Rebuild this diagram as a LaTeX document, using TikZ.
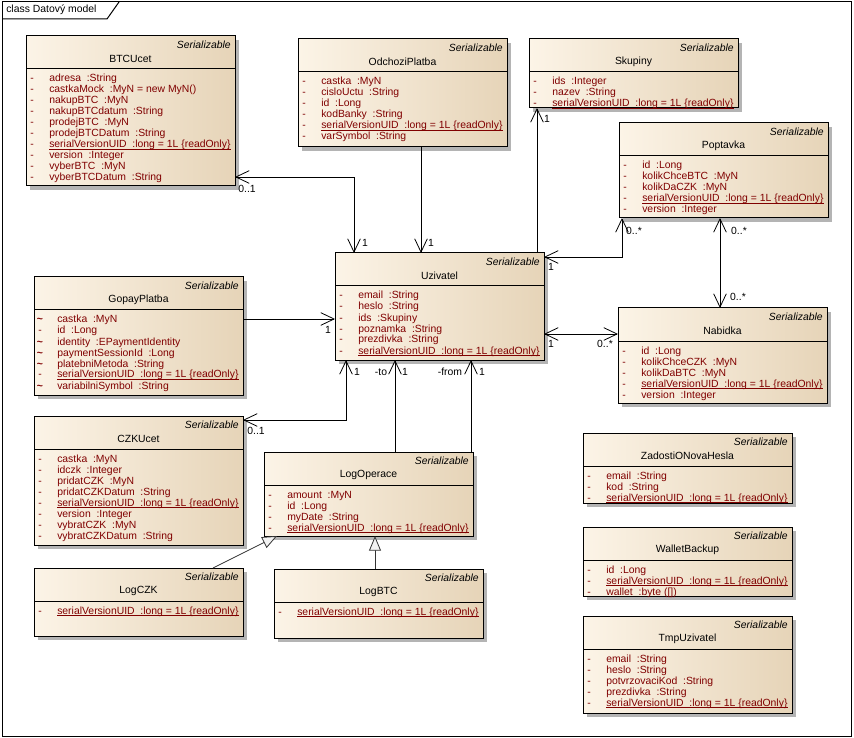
\documentclass[tikz,border=0pt]{standalone}
\usepackage{fontspec}
\setmainfont{Liberation Sans}
\usetikzlibrary{arrows.meta, calc, positioning}
\definecolor{boxleft}{HTML}{FCF4E7}
\definecolor{boxright}{HTML}{E6D4B8}
\definecolor{attrred}{HTML}{800000}
\definecolor{shadowgray}{HTML}{B4B4B4}

\tikzset{
  classbox/.style={draw, line width=0.75pt, left color=boxleft, right color=boxright,
    minimum width=156.75pt, inner sep=0pt, outer sep=0pt, anchor=north west},
  stereo/.style={font=\fontsize{7.8}{8.25}\selectfont\itshape, inner sep=0pt, anchor=east},
  classname/.style={font=\fontsize{7.8}{8.25}\selectfont, inner sep=0pt},
  attrs/.style={font=\fontsize{7.8}{8.25}\selectfont, text=attrred, inner sep=0pt},
  mult/.style={font=\fontsize{7.8}{8.25}\selectfont, inner sep=0pt},
  assoc/.style={line width=0.6pt},
  gen/.style={line width=0.6pt, draw=black!80, -{Triangle[length=11pt, width=9pt, fill=black!5]}}
}

% one class box: name, x, y, height, title, rows (marker/text)
\newcommand{\umlclass}[6]{%
  \fill[shadowgray] (#2+4,#3+4) rectangle (#2+213,#3+#4+4);
  \node[classbox, minimum height=#4*0.75pt] (#1) at (#2,#3) {};
  \draw[line width=0.75pt] ($(#1.north west)+(0,33)$) -- ($(#1.north east)+(0,33)$);
  \node[stereo] (#1-st) at ($(#1.north east)+(-4,8.5)$) {Serializable};
  \node[classname] (#1-nm) at ($(#1.north)+(0,22.5)$) {#5};
  \foreach \vis/\attr [count=\row] in {#6}{
    \node[attrs, anchor=base] (#1-v\row) at ($(#1.north west)+(6,35+11*\row)$) {\vis};
    \node[attrs, anchor=base west] (#1-a\row) at ($(#1.north west)+(23,35+11*\row)$) {\attr};
  }
}
% static attribute, underlined just below the baseline
\newcommand{\suid}{\setbox0\hbox{serialVersionUID~ :long = 1L \{readOnly\}}%
  \rlap{\rule[-1.6pt]{\wd0}{0.6pt}}\box0}
\newcommand{\pkg}{\textbf{\textasciitilde}}

\begin{document}
\begin{tikzpicture}[x=0.75pt, y=-0.75pt, >={Straight Barb[length=10pt, width=9.5pt]}]
  \fill[white] (0,0) rectangle (854,738);
  \useasboundingbox (0,0) rectangle (854,738);

  % diagram frame
  \draw[line width=0.75pt] (2,2) rectangle (851,736);
  \draw[line width=0.75pt] (2,19) -- (107,19) -- (119,2);
  \node[classname, anchor=west] (frametitle) at (6,10) {class Datový model};

  % classes
  \umlclass{btcucet}{26}{36}{150}{BTCUcet}{%
    -/adresa~ :String, -/castkaMock~ :MyN = new MyN(), -/nakupBTC~ :MyN,
    -/nakupBTCdatum~ :String, -/prodejBTC~ :MyN, -/prodejBTCDatum~ :String,
    -/\suid, -/version~ :Integer, -/vyberBTC~ :MyN, -/vyberBTCDatum~ :String}
  \umlclass{odchozi}{298}{39}{108}{OdchoziPlatba}{%
    -/castka~ :MyN, -/cisloUctu~ :String, -/id~ :Long, -/kodBanky~ :String,
    -/\suid, -/varSymbol~ :String}
  \umlclass{skupiny}{529}{39}{69}{Skupiny}{%
    -/ids~ :Integer, -/nazev~ :String, -/\suid}
  \umlclass{poptavka}{619}{123}{95}{Poptavka}{%
    -/id~ :Long, -/kolikChceBTC~ :MyN, -/kolikDaCZK~ :MyN, -/\suid, -/version~ :Integer}
  \umlclass{uzivatel}{335}{253}{107}{Uzivatel}{%
    -/email~ :String, -/heslo~ :String, -/ids~ :Skupiny, -/poznamka~ :String,
    -/prezdivka~ :String, -/\suid}
  \umlclass{nabidka}{618}{308}{95}{Nabidka}{%
    -/id~ :Long, -/kolikChceCZK~ :MyN, -/kolikDaBTC~ :MyN, -/\suid, -/version~ :Integer}
  \umlclass{gopay}{34}{277}{118}{GopayPlatba}{%
    \pkg/castka~ :MyN, -/id~ :Long, \pkg/identity~ :EPaymentIdentity,
    \pkg/paymentSessionId~ :Long, \pkg/platebniMetoda~ :String, -/\suid,
    \pkg/variabilniSymbol~ :String}
  \umlclass{czkucet}{34}{416}{129}{CZKUcet}{%
    -/castka~ :MyN, -/idczk~ :Integer, -/pridatCZK~ :MyN, -/pridatCZKDatum~ :String,
    -/\suid, -/version~ :Integer, -/vybratCZK~ :MyN, -/vybratCZKDatum~ :String}
  \umlclass{logoperace}{264}{452}{84}{LogOperace}{%
    -/amount~ :MyN, -/id~ :Long, -/myDate~ :String, -/\suid}
  \umlclass{logczk}{34}{568}{68}{LogCZK}{-/\suid}
  \umlclass{logbtc}{274}{569}{69}{LogBTC}{-/\suid}
  \umlclass{zadosti}{583}{433}{70}{ZadostiONovaHesla}{%
    -/email~ :String, -/kod~ :String, -/\suid}
  \umlclass{wallet}{583}{527}{69}{WalletBackup}{%
    -/id~ :Long, -/\suid, -/wallet~ :byte ([])}
  \umlclass{tmpuzivatel}{583}{616}{97}{TmpUzivatel}{%
    -/email~ :String, -/heslo~ :String, -/potvrzovaciKod~ :String,
    -/prezdivka~ :String, -/\suid}

  % associations
  \draw[assoc, <->] (uzivatel.north -| 354,0) |- (btcucet.east |- 0,177);
  \draw[assoc, ->] (odchozi.south -| 421,0) -- (uzivatel.north -| 421,0);
  \draw[assoc, ->] (uzivatel.north -| 537,0) -- (skupiny.south -| 537,0);
  \draw[assoc, <->] (uzivatel.east |- 0,257) -| (poptavka.south -| 622,0);
  \draw[assoc, <->] (poptavka.south -| 720,0) -- (nabidka.north -| 720,0);
  \draw[assoc, <->] (uzivatel.east |- 0,334) -- (nabidka.west |- 0,334);
  \draw[assoc, ->] (gopay.east |- 0,319) -- (uzivatel.west |- 0,319);
  \draw[assoc, <->] (uzivatel.south -| 346,0) |- (czkucet.east |- 0,420);
  \draw[assoc, ->] (logoperace.north -| 395,0) -- (uzivatel.south -| 395,0);
  \draw[assoc, ->] (logoperace.north -| 471,0) -- (uzivatel.south -| 471,0);

  % generalizations
  \draw[gen] (logczk.north -| 213,0) -- (logoperace.south -| 277,0);
  \draw[gen] (logbtc.north -| 375,0) -- (logoperace.south -| 375,0);

  % multiplicities and roles
  \node[mult] (m-btc) at (247,189) {0..1};
  \node[mult] (m-ubtc) at (365,243) {1};
  \node[mult] (m-odch) at (431,243) {1};
  \node[mult] (m-skup) at (547,119) {1};
  \node[mult] (m-upop) at (551,267) {1};
  \node[mult] (m-pop) at (634,231) {0..*};
  \node[mult] (m-popnab) at (739,231) {0..*};
  \node[mult] (m-nabpop) at (738,297) {0..*};
  \node[mult] (m-unab) at (551,344) {1};
  \node[mult] (m-nab) at (605,344) {0..*};
  \node[mult] (m-gopay) at (328,330) {1};
  \node[mult] (m-uczk) at (357,372) {1};
  \node[mult] (m-czk) at (256,431) {0..1};
  \node[mult] (r-to) at (381,372) {-to};
  \node[mult] (m-to) at (405,372) {1};
  \node[mult] (r-from) at (450,372) {-from};
  \node[mult] (m-from) at (482,372) {1};
\end{tikzpicture}
\end{document}
